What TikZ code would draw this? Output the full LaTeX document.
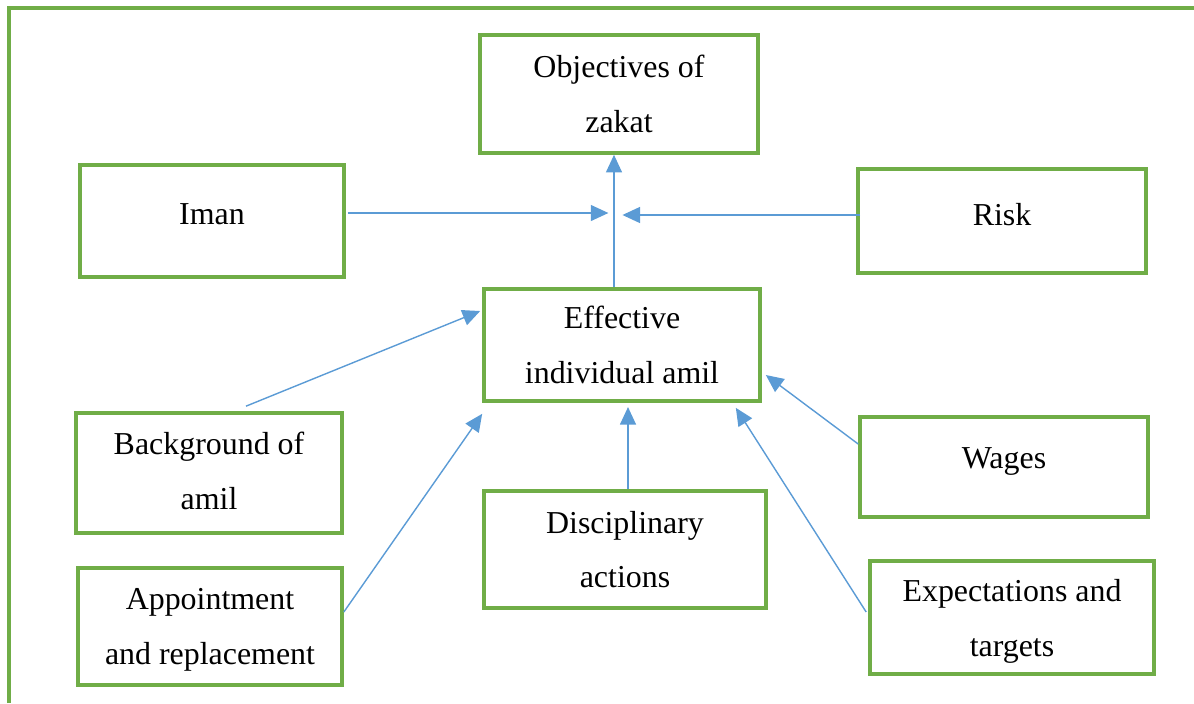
\documentclass[tikz,border=0pt]{standalone}
\usepackage{fontspec}
\setmainfont{Liberation Serif}
\usetikzlibrary{arrows.meta,calc}
\definecolor{boxgreen}{RGB}{112,173,71}
\definecolor{arrowblue}{RGB}{91,155,213}
\begin{document}
\begin{tikzpicture}[
				x=0.25mm, y=-0.25mm,
				every node/.style={
						font=\fontsize{22.7}{39}\selectfont,
					},
				box/.style 2 args={draw=boxgreen, line width=2.6pt, align=center,
						minimum width=#1*0.25mm, minimum height=#2*0.25mm, inner sep=0pt},
				arr/.style={draw=arrowblue, line width=1pt,
						-{Triangle[length=4.4mm, width=4mm]}},]
			\useasboundingbox (0,0) rectangle (1194,703);
			\draw [boxgreen, line width=2.6pt] (9,703) -- (9,8) -- (1194,8);
			% boxes
			\node[box={278}{118}] (objectives) at (619,94) {Objectives of\\zakat};
			\node[box={264}{112}, text depth=3.5mm] (iman) at (212,221) {Iman};
			\node[box={288}{104}, text depth=3.5mm] (risk) at (1002,221) {Risk};
			\node[box={276}{112}, text depth=-1.5mm] (effective) at (622,345) {Effective\\individual amil};
			\node[box={266}{120}, text depth=1mm] (background) at (209,473) {Background of\\amil};
			\node[box={288}{100}, text depth=4.25mm] (wages) at (1004,467) {Wages};
			\node[box={282}{117}] (disciplinary) at (625,549.5) {Disciplinary\\actions};
			\node[box={264}{117}, text depth=0pt] (appointment) at (210,626.5) {Appointment\\and replacement};
			\node[box={284}{113}, text depth=-1.25mm] (expectations) at (1012,617.5) {Expectations and\\targets};
			% arrows
			\coordinate (hub) at (614,213);
			\draw [arr] (effective.north -| hub) -- (objectives.south -| hub);
			\draw [arr, shorten >=4] ($(iman.east |- hub)+(2,0)$) -- (hub);
			\draw [arr, shorten >=6] ($(risk.west |- hub)+(4,2)$) -- ($(hub)+(0,2)$);
			\draw [arr] ($(background.north)+(37,-5)$) -- ($(effective.west)+(-2,-34)$);
			\draw [arr] ($(appointment.east)+(0,-14.5)$) -- ($(effective.south west)+(0,11)$);
			\draw [arr, shorten >=3] ($(disciplinary.north)+(3,0)$) -- ($(effective.south -| disciplinary.north)+(3,0)$);
			\draw [arr] ($(expectations.west)+(-2,-5.5)$) -- ($(effective.south east)+(-26,5)$);
			\draw [arr] ($(wages.west)+(0,-23)$) -- ($(effective.east)+(4,30)$);
		\end{tikzpicture}
\end{document}
